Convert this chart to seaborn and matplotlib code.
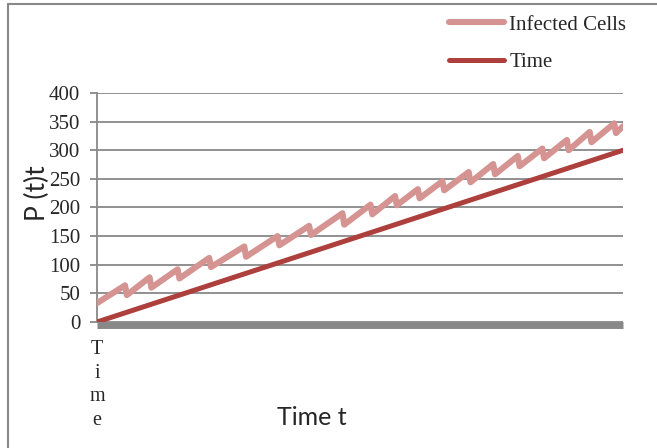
import matplotlib
matplotlib.use("Agg")
import matplotlib.pyplot as plt
import matplotlib.transforms as mtransforms
from matplotlib.lines import Line2D
import pandas as pd
import seaborn as sns

# Infected cell count: saw-tooth growth (vertex points of the curve)
infected_t = [0, 16, 17, 30, 31, 46, 47, 64, 65, 84, 85, 103, 104, 121, 122,
              140, 141, 156, 157, 170, 171, 183, 184, 197, 198, 212, 213,
              226, 227, 240, 241, 254, 255, 268, 269, 281, 282, 295, 296, 300]
infected_p = [33, 64, 47, 78, 60, 92, 76, 112, 96, 132, 114, 150, 134, 168, 152,
              190, 170, 205, 188, 220, 204, 232, 216, 246, 230, 262, 244,
              276, 258, 290, 272, 303, 286, 318, 300, 332, 314, 347, 330, 342]

# Reference line P = t
time_t = [0, 300]
time_p = [0, 300]

y_ticks = [0, 50, 100, 150, 200, 250, 300, 350, 400]
x_tick_label = "T\ni\nm\ne"

PINK = "#D59391"
DARK = "#AD403C"
GRAY = "#888888"
SERIF = "Liberation Serif"

sns.set_style("white")

fig = plt.figure(figsize=(6.57, 4.48), dpi=100)
W, H = 657, 448
ax = fig.add_axes([97 / W, 126 / H, 526 / W, 229 / H])

infected = pd.DataFrame({"t": infected_t, "P": infected_p})
timeline = pd.DataFrame({"t": time_t, "P": time_p})

sns.lineplot(data=infected, x="t", y="P", ax=ax, color=PINK, lw=4.4,
             label="Infected Cells", solid_capstyle="round",
             solid_joinstyle="round", zorder=4)
sns.lineplot(data=timeline, x="t", y="P", ax=ax, color=DARK, lw=3.6,
             label="Time", solid_capstyle="round", zorder=5)

ax.set_xlim(0, 300)
ax.set_ylim(0, 400)
ax.set_yticks(y_ticks)
ax.set_yticklabels([str(v) for v in y_ticks], fontfamily=SERIF, fontsize=15)
ax.set_xticks([0])
ax.set_xticklabels([x_tick_label], fontfamily=SERIF, fontsize=14.5,
                   linespacing=1.33)
ax.tick_params(axis="y", length=5, width=1.3, color=GRAY, pad=7, direction="out",
               left=True)
ax.tick_params(axis="x", length=0, pad=13)

ax.grid(axis="y", color=GRAY, lw=1.3)
ax.set_axisbelow(True)
for side in ("top", "right", "bottom"):
    ax.spines[side].set_visible(False)
ax.spines["left"].set_color(GRAY)
ax.spines["left"].set_linewidth(1.3)
ax.set_xlabel("")
ax.set_ylabel("")

# thick category axis just below zero
shift = mtransforms.offset_copy(ax.get_yaxis_transform(), fig=fig, x=0, y=-3.3,
                                units="dots")
ax.plot([0, 1], [0, 0], transform=shift, color=GRAY, lw=5, zorder=3,
        solid_capstyle="butt", clip_on=False)

fig.text(312 / W, 1 - 417 / H, "Time t", family="Lato", fontsize=18,
         ha="center", va="center")
fig.text(37 / W, 1 - 193 / H, "P (t)t", family="Lato", fontsize=19,
         rotation=90, ha="center", va="center")

ax.legend(loc="upper left", bbox_to_anchor=(449 / W, 1 - 15 / H),
          bbox_transform=fig.transFigure, frameon=False, borderpad=0,
          borderaxespad=0, handlelength=2.65, handletextpad=0.25,
          labelspacing=0.86, prop={"family": SERIF, "size": 15})

# chart frame (left and top edges)
fig.add_artist(Line2D([7.5 / W, 7.5 / W], [0, 1 - 4 / H], color=GRAY, lw=1.5))
fig.add_artist(Line2D([7.5 / W, 1], [1 - 4 / H, 1 - 4 / H], color=GRAY, lw=1.5))

fig.savefig("out.png", dpi=100)
